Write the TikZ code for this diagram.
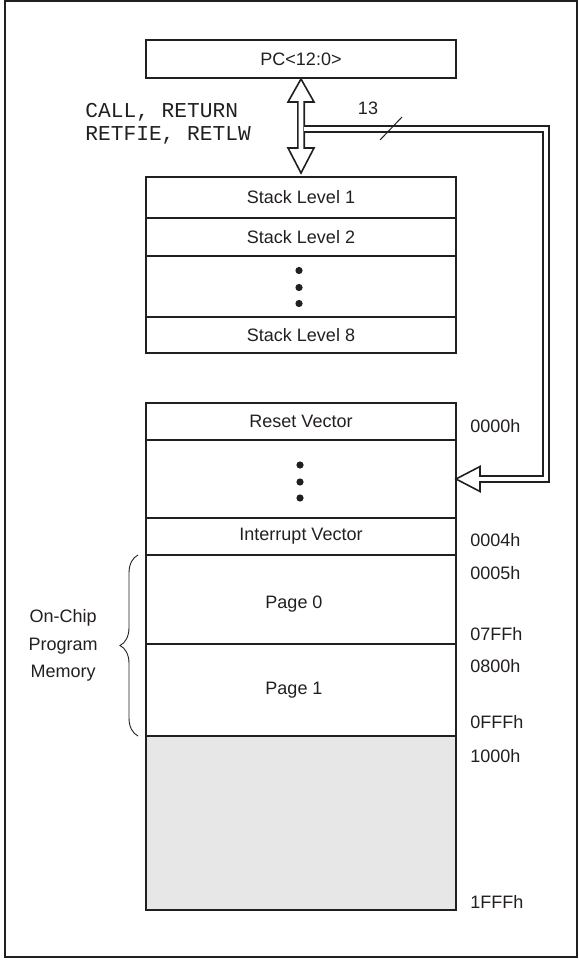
\documentclass[tikz,border=0pt]{standalone}
\usepackage{fontspec}
\setmainfont{Liberation Sans}
\setmonofont{Liberation Mono}
\usetikzlibrary{positioning, calc, decorations.pathreplacing}
\definecolor{ink}{RGB}{35,31,32}
\definecolor{spare}{RGB}{230,231,230}

\begin{document}
\begin{tikzpicture}[x=0.5pt, y=-0.5pt, color=ink, font=\fontsize{9}{11}\selectfont,
    cell/.style={draw=ink, line width=1pt, minimum width=155pt, inner sep=0pt, outer sep=0pt},
    pipe/.style={draw=ink, line width=0.8pt, fill=white},
    bus/.style={draw=ink, line width=0.8pt, double=white, double distance=2.4pt},
    addr/.style={anchor=west, inner sep=0pt}]
                \useasboundingbox (0,0) rectangle (578,961);
                \draw[line width=1.1pt] (5,1) rectangle (577,957);
                % program counter and stack
                \node[cell, minimum height=19pt] (pc) at (301,59) {PC<12:0>};
                \node[cell, minimum height=20.5pt] (s1) at (301,197.5) {Stack Level 1};
                \node[cell, minimum height=19pt, below=0pt of s1] (s2) {Stack Level 2};
                \node[cell, minimum height=30.5pt, below=0pt of s2] (sd) {};
                \node[cell, minimum height=18pt, below=0pt of sd] (s8) {Stack Level 8};
                \fill ($(sd)+(-2,-16)$) circle[radius=1.8pt];
                \fill ($(sd)+(-2,1)$) circle[radius=1.8pt];
                \fill ($(sd)+(-2,17)$) circle[radius=1.8pt];
                % program memory
                \node[cell, minimum height=18.5pt] (rv) at (301,421.5) {Reset Vector};
                \node[cell, minimum height=39pt, below=0pt of rv] (md) {};
                \node[cell, minimum height=18.5pt, below=0pt of md] (iv) {Interrupt Vector};
                \node[cell, minimum height=44.5pt, below=0pt of iv] (p0) {};
                \node[cell, minimum height=46pt, below=0pt of p0] (p1) {};
                \node[cell, minimum height=87pt, below=0pt of p1, fill=spare] (free) {};
                \node (t0) at ($(p0)+(-7,4.5)$) {Page 0};
                \node (t1) at ($(p1)+(-7,0)$) {Page 1};
                \fill ($(md)+(-1,-14)$) circle[radius=1.8pt];
                \fill ($(md)+(-1,3)$) circle[radius=1.8pt];
                \fill ($(md)+(-1,19)$) circle[radius=1.8pt];
                \node[addr] (a0) at (470,426) {0000h};
                \node[addr] (a4) at (470,540) {0004h};
                \node[addr] (a5) at (470,573) {0005h};
                \node[addr] (a7) at (470,634) {07FFh};
                \node[addr] (a8) at (470,666) {0800h};
                \node[addr] (af) at (470,722) {0FFFh};
                \node[addr] (b0) at (470,756) {1000h};
                \node[addr] (bf) at (470,902) {1FFFh};
                \draw[line width=0.45pt, decorate, decoration={brace, amplitude=9pt}]
                    ([xshift=-4pt]p1.south west) -- ([xshift=-4pt]p0.north west)
                    node[midway, left=20pt, align=center, inner sep=0pt,
                         font=\fontsize{9}{13.75}\selectfont] (mem) {On-Chip\\Program\\Memory};
                % call/return path and 13-bit bus
                \node[anchor=west, align=left, inner sep=0pt,
                      font=\ttfamily\fontsize{10.6}{11.5}\selectfont] (ops) at (85,123.5) {CALL, RETURN\\RETFIE, RETLW};
                \draw[pipe] ($(pc.south)+(0,1)$) -- ++(13,23) -- ++(-9.8,0) -- ++(0,46) -- ++(9.8,0)
                    -- ++(-13,25) -- ++(-13,-25) -- ++(9.8,0) -- ++(0,-46) -- ++(-9.8,0) -- cycle;
                \draw[pipe] (md.east) -- ++(24,-12.5) -- ++(0,25) -- cycle;
                \coordinate (tap) at ($(pc.south)+(2.5,51)$);
                \coordinate (head) at ($(md.east)+(23,0)$);
                \draw[bus] (tap) -- ++(242.5,0) |- (head);
                \node (w) at (368,108) {13};
                \draw[line width=0.5pt] (380,140) -- (402,117);
            \end{tikzpicture}
\end{document}
